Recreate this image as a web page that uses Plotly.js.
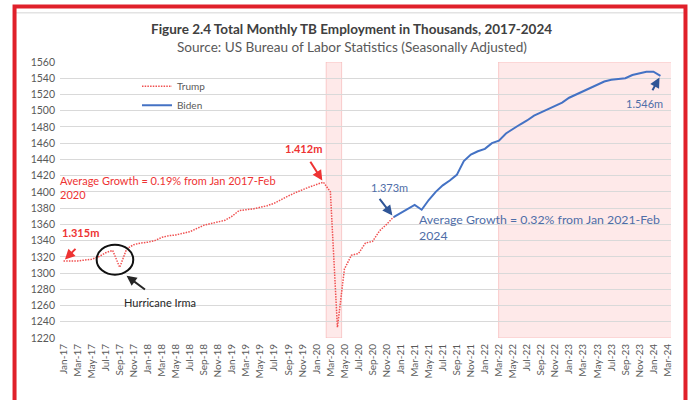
<!DOCTYPE html>
<html>
<head>
<meta charset="utf-8">
<script src="https://cdn.plot.ly/plotly-3.0.1.min.js"></script>
<style>
html,body{margin:0;padding:0;background:#fff;}
#chart{width:690px;height:400px;}
</style>
</head>
<body>
<div id="chart"></div>
<script>
// Month categories (x axis)
const months = [
 "Jan-17","Feb-17","Mar-17","Apr-17","May-17","Jun-17","Jul-17","Aug-17","Sep-17","Oct-17","Nov-17","Dec-17",
 "Jan-18","Feb-18","Mar-18","Apr-18","May-18","Jun-18","Jul-18","Aug-18","Sep-18","Oct-18","Nov-18","Dec-18",
 "Jan-19","Feb-19","Mar-19","Apr-19","May-19","Jun-19","Jul-19","Aug-19","Sep-19","Oct-19","Nov-19","Dec-19",
 "Jan-20","Feb-20","Mar-20","Apr-20","May-20","Jun-20","Jul-20","Aug-20","Sep-20","Oct-20","Nov-20","Dec-20",
 "Jan-21","Feb-21","Mar-21","Apr-21","May-21","Jun-21","Jul-21","Aug-21","Sep-21","Oct-21","Nov-21","Dec-21",
 "Jan-22","Feb-22","Mar-22","Apr-22","May-22","Jun-22","Jul-22","Aug-22","Sep-22","Oct-22","Nov-22","Dec-22",
 "Jan-23","Feb-23","Mar-23","Apr-23","May-23","Jun-23","Jul-23","Aug-23","Sep-23","Oct-23","Nov-23","Dec-23",
 "Jan-24","Feb-24","Mar-24"
];
// Tick labels shown (every other month)
const tickLabels = [
 "Jan-17","Mar-17","May-17","Jul-17","Sep-17","Nov-17",
 "Jan-18","Mar-18","May-18","Jul-18","Sep-18","Nov-18",
 "Jan-19","Mar-19","May-19","Jul-19","Sep-19","Nov-19",
 "Jan-20","Mar-20","May-20","Jul-20","Sep-20","Nov-20",
 "Jan-21","Mar-21","May-21","Jul-21","Sep-21","Nov-21",
 "Jan-22","Mar-22","May-22","Jul-22","Sep-22","Nov-22",
 "Jan-23","Mar-23","May-23","Jul-23","Sep-23","Nov-23",
 "Jan-24","Mar-24"
];
// Trump period: Jan-17 .. Dec-20 (thousands)
const trumpMonths = months.slice(0, 48);
const trumpValues = [
 1315,1315,1315,1316,1317,1320,1325,1328,1307,1330,1335,1337,
 1338,1340,1344,1346,1347,1349,1351,1355,1359,1361,1363,1365,
 1370,1377,1378,1379,1381,1383,1386,1391,1395,1399,1403,1406,
 1409,1412,1400,1233,1305,1322,1324,1337,1339,1352,1360,1369
];
// Biden period: Dec-20 .. Feb-24 (thousands)
const bidenMonths = months.slice(47, 86);
const bidenValues = [
 1369,1374,1379,1384,1378,1390,1400,1408,1414,1421,1438,1446,
 1450,1453,1460,1463,1472,1478,1483,1488,1494,1498,1502,1507,
 1510,1516,1520,1525,1529,1532,1536,1538,1539,1540,1544,1546,
 1548,1548,1543
];

const RED = "#ee3333";
const BLUE = "#4472c4";
const BLUE_TXT = "#4f6ea8";
const FONT = "Lato, 'Open Sans', sans-serif";

const traces = [
 {x: trumpMonths, y: trumpValues, type: "scatter", mode: "lines", name: "Trump",
  line: {color: "#f05050", width: 1.5, dash: "1.5px,1.2px"}},
 {x: bidenMonths, y: bidenValues, type: "scatter", mode: "lines", name: "Biden",
  line: {color: BLUE, width: 2}}
];

function arrow(x, y, ax, ay, color){
  return {x: x, y: y, xref: "x", yref: "y", text: " ", showarrow: true,
    ax: ax, ay: ay, arrowhead: 2, arrowsize: 1, arrowwidth: 2, arrowcolor: color, standoff: 2};
}
function label(x, y, text, color, size, bold, xanchor){
  return {x: x, y: y, xref: "x", yref: "y", text: bold ? "<b>" + text + "</b>" : text,
    showarrow: false, xanchor: xanchor || "center", yanchor: "middle", align: "left",
    font: {family: FONT, size: size, color: color}};
}

const annotations = [
 {xref: "paper", yref: "paper", x: 0.4775, y: 1.119, text: "<b>Figure 2.4 Total Monthly TB Employment in Thousands, 2017-2024</b>",
  showarrow: false, font: {family: FONT, size: 13.5, color: "#404040"}, xanchor: "center", yanchor: "middle"},
 {xref: "paper", yref: "paper", x: 0.4775, y: 1.054, text: "Source: US Bureau of Labor Statistics (Seasonally Adjusted)",
  showarrow: false, font: {family: FONT, size: 13.6, color: "#595959"}, xanchor: "center", yanchor: "middle"},
 label(2.35, 1349.6, "1.315m", RED, 11, true),
 arrow(0, 1315, 15, -15, RED),
 {xref: "paper", yref: "y", x: -0.004, y: 1405, text: "Average Growth = 0.19% from Jan 2017-Feb<br>2020",
  showarrow: false, xanchor: "left", yanchor: "middle", align: "left",
  font: {family: FONT, size: 11, color: RED}},
 label(34.2, 1453, "1.412m", RED, 11, true),
 arrow(37, 1412, -16, -25, RED),
 label(46.4, 1406, "1.373m", BLUE_TXT, 11, false),
 arrow(47, 1369, -17, -22, "#2f5597"),
 label(50.3, 1356, "Average Growth = 0.32% from Jan 2021-Feb<br>2024", BLUE_TXT, 12.3, false, "left"),
 label(82.7, 1509, "1.546m", BLUE_TXT, 11, false),
 arrow(85, 1543, -11, 20, "#2f5597"),
 label(13.7, 1263.5, "Hurricane Irma", "#262626", 11, false),
 arrow(8.75, 1298, 23, 17, "#262626")
];

const shapes = [
 // shaded periods
 {type: "rect", xref: "x", yref: "y", x0: 37.4, x1: 39.6, y0: 1220, y1: 1560,
  fillcolor: "rgba(250,120,120,0.16)", line: {color: "rgba(240,130,130,0.35)", width: 1}, layer: "below"},
 {type: "rect", xref: "x", yref: "y", x0: 61.95, x1: 86.6, y0: 1220, y1: 1560,
  fillcolor: "rgba(250,120,120,0.16)", line: {color: "rgba(240,130,130,0.35)", width: 1}, layer: "below"},
 // Hurricane Irma circle
 {type: "circle", xref: "x", yref: "y", x0: 4.72, x1: 9.93, y0: 1298, y1: 1335,
  line: {color: "#111111", width: 2}},
 // frame lines
 {type: "line", xref: "paper", yref: "paper", x0: -0.072, x1: 1.021, y0: 1.178, y1: 1.178,
  line: {color: "#d4d4d4", width: 1}},
 {type: "rect", xref: "paper", yref: "paper", x0: -0.0744, x1: 1.0237, y0: -0.34, y1: 1.2009,
  line: {color: "#e0202a", width: 4}, fillcolor: "rgba(0,0,0,0)"}
];

const layout = {
 width: 690, height: 400,
 margin: {l: 60, r: 19, t: 62, b: 62},
 paper_bgcolor: "#ffffff", plot_bgcolor: "#ffffff",
 font: {family: FONT, color: "#595959"},
 showlegend: true,
 legend: {x: 0.126, y: 0.965, xanchor: "left", yanchor: "top", bgcolor: "rgba(0,0,0,0)",
  font: {family: FONT, size: 10, color: "#595959"}, itemwidth: 30},
 xaxis: {type: "category", categoryorder: "array", categoryarray: months,
  range: [-0.5, 86.5], tickmode: "array", tickvals: tickLabels, ticktext: tickLabels,
  tickangle: -90, tickfont: {family: FONT, size: 10, color: "#595959"},
  ticklabelstandoff: 3,
  showgrid: false, zeroline: false, showline: false, ticks: "", fixedrange: true},
 yaxis: {range: [1220, 1560], dtick: 20, tick0: 1220, gridcolor: "#d9d9d9", gridwidth: 1,
  zeroline: false, showline: false, ticks: "", tickfont: {family: FONT, size: 10.5, color: "#595959"},
  ticklabelstandoff: 4, fixedrange: true},
 annotations: annotations,
 shapes: shapes
};

Plotly.newPlot("chart", traces, layout, {displayModeBar: false, staticPlot: true});
</script>
</body>
</html>
